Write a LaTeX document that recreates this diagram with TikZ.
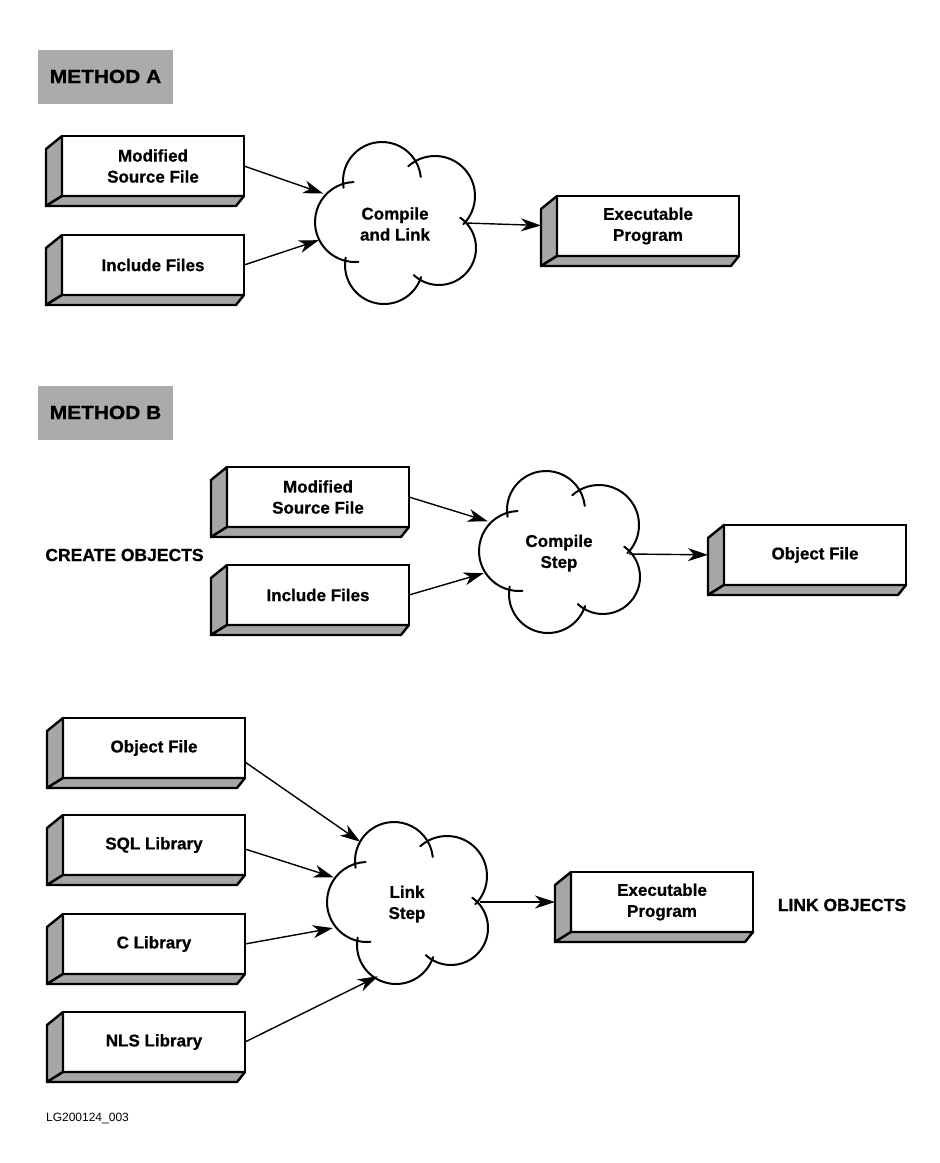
\documentclass[tikz,border=0pt]{standalone}
\usepackage{fontspec}
\setmainfont{Liberation Sans}[BoldFeatures={FakeBold=0.8}]
\newfontfamily\widesans{Liberation Sans}[FakeStretch=1.1, BoldFeatures={FakeBold=1}]
\usetikzlibrary{arrows.meta}
\newcommand\boxdepth[1]{%
  \filldraw[sideface] (#1.north west) -- ([shift={(-16,13)}]#1.north west) -- ([shift={(-16,10)}]#1.south west) -- (#1.south west) -- cycle;
  \filldraw[sideface] (#1.south west) -- ([shift={(-16,10)}]#1.south west) -- ([shift={(-8,10)}]#1.south east) -- (#1.south east) -- cycle;
}
\newcommand\cloudpuffs[1]{%
  \draw[cloudline] (#1.center) ++(-13,-43) ++(170:39) arc[start angle=170,end angle=354,radius=39];
  \draw[cloudline] (#1.center) ++(40,-28) ++(228:40) arc[start angle=228,end angle=405,radius=40];
  \draw[cloudline] (#1.center) ++(44,24) ++(-55:37) arc[start angle=-55,end angle=133,radius=37];
  \draw[cloudline] (#1.center) ++(-11,41) ++(18:39) arc[start angle=18,end angle=191,radius=39];
  \draw[cloudline] (#1.center) ++(-40,-2) ++(85:40) arc[start angle=85,end angle=268,radius=40];
}
\begin{document}
\begin{tikzpicture}[x=1pt,y=-1pt,
  fbox/.style={draw, line width=2.4pt, fill=white, minimum width=182pt, minimum height=60pt,
    inner sep=0pt, outer sep=0pt, align=center, font=\fontsize{17}{21}\selectfont\bfseries},
  sideface/.style={draw, line width=2.4pt, fill=black!35, line join=round},
  cloudnode/.style={circle, minimum size=156pt, inner sep=0pt, outer sep=0pt, align=center,
    font=\fontsize{17}{21}\selectfont\bfseries},
  cloudline/.style={line width=2pt, line cap=round},
  conn/.style={line width=1.4pt, -{Stealth[length=20pt,width=13pt,inset=6pt]}},
  methodlbl/.style={fill=black!33, minimum width=135pt, minimum height=54pt, inner sep=0pt,
    font=\widesans\fontsize{19}{22}\selectfont\bfseries},
  plain/.style={inner sep=0pt, font=\fontsize{17.5}{21}\selectfont\bfseries},
]
\useasboundingbox (0,0) rectangle (940,1163);

% ---------- METHOD A ----------
\node[methodlbl] (mA) at (105.5,76.5) {METHOD A};

\node[fbox] (srcA) at (153,166) {Modified\\Source File};
\boxdepth{srcA}
\node[fbox] (incA) at (153,265) {Include Files};
\boxdepth{incA}
\node[cloudnode] (clA) at (395,224) {Compile\\and Link};
\cloudpuffs{clA}
\node[fbox] (exeA) at (648,226) {Executable\\Program};
\boxdepth{exeA}
\coordinate (clAout) at ([xshift=71pt,yshift=1pt]clA.center);

\draw[conn] (srcA.east) -- (clA.157);
\draw[conn] (incA.east) -- (clA.192);
\draw[conn, shorten >=16pt] (clAout) -- (exeA.west);

% ---------- METHOD B ----------
\node[methodlbl] (mB) at (105.5,412.5) {METHOD B};
\node[plain] (create) at (124.5,555) {CREATE OBJECTS};

\node[fbox] (srcB) at (318,497) {Modified\\Source File};
\boxdepth{srcB}
\node[fbox] (incB) at (318,595) {Include Files};
\boxdepth{incB}
\node[cloudnode] (clB) at (559,553) {Compile\\Step};
\cloudpuffs{clB}
\node[fbox] (objB) at (815,555) {Object File};
\boxdepth{objB}
\coordinate (clBout) at ([xshift=70pt,yshift=-1pt]clB.center);

\draw[conn] (srcB.east) -- (clB.156);
\draw[conn] (incB.east) -- (clB.195);
\draw[conn, shorten >=16pt] (clBout) -- (objB.west);

% ---------- LINK ----------
\node[fbox] (objL) at (154,748) {Object File};
\boxdepth{objL}
\node[fbox] (sqlL) at (154,845) {SQL Library};
\boxdepth{sqlL}
\node[fbox] (cL) at (154,944) {C Library};
\boxdepth{cL}
\node[fbox] (nlsL) at (154,1042) {NLS Library};
\boxdepth{nlsL}
\node[cloudnode] (clL) at (407,904) {Link\\Step};
\cloudpuffs{clL}
\node[fbox] (exeL) at (662,902) {Executable\\Program};
\boxdepth{exeL}
\coordinate (clLout) at ([xshift=73pt,yshift=2pt]clL.center);
\node[plain] (linkobj) at (842,905) {LINK OBJECTS};

\draw[conn] ([yshift=-14pt]objL.east) -- (clL.127);
\draw[conn] ([yshift=-4pt]sqlL.east) -- (clL.160);
\draw[conn] (cL.east) -- (clL.198);
\draw[conn] (nlsL.east) -- (clL.248);
\draw[conn, shorten >=16pt] (clLout) -- (exeL.west);

\node[inner sep=0pt, font=\fontsize{12}{14}\selectfont] (fig) at (87.5,1118) {LG200124\_003};
\end{tikzpicture}
\end{document}
